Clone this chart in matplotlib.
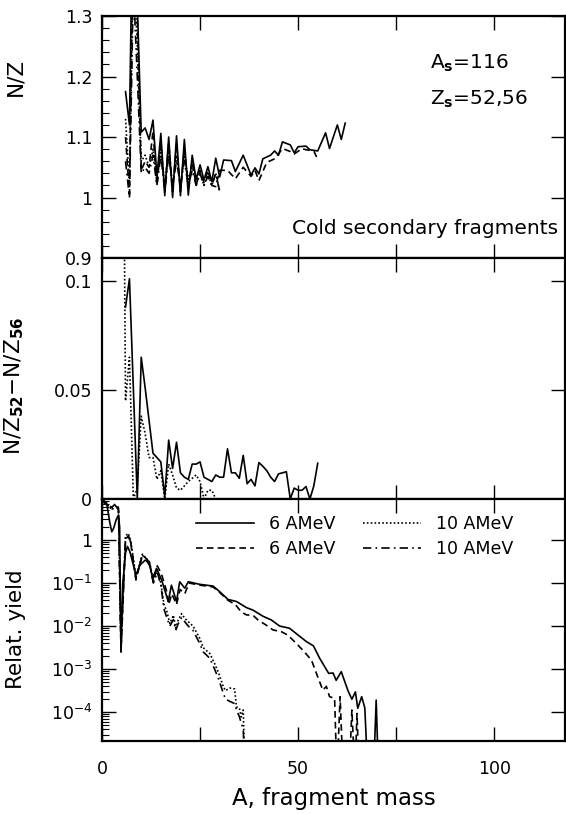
import numpy as np
import matplotlib
matplotlib.use("Agg")
import matplotlib.pyplot as plt
from matplotlib.ticker import MultipleLocator, FixedLocator, NullFormatter, LogLocator

plt.rcParams['font.family'] = ['DejaVu Sans']
plt.rcParams['mathtext.default'] = 'regular'

# ---------------- data: top panel (N/Z of cold fragments) ----------------
nz_solid_A = [6, 7, 8, 9, 10, 11, 12, 13, 14, 15, 16, 17, 18, 19, 20, 21, 22, 23, 24, 25, 26,
              27, 28, 29, 30, 31, 33, 34, 36, 38, 39, 40, 41, 43, 44, 45, 46, 48, 49, 50, 52,
              53, 55, 57, 58, 60, 61, 62]
nz_solid = [1.175, 1.12, 1.55, 1.32, 1.108, 1.115, 1.096, 1.128, 1.035, 1.106, 1.003, 1.100,
            1.000, 1.102, 1.003, 1.096, 1.004, 1.070, 1.030, 1.054, 1.029, 1.051, 1.026, 1.065,
            1.034, 1.062, 1.061, 1.043, 1.070, 1.037, 1.049, 1.039, 1.064, 1.070, 1.077, 1.070,
            1.092, 1.087, 1.074, 1.084, 1.085, 1.079, 1.077, 1.107, 1.081, 1.120, 1.096, 1.123]

nz_dash_A = [6, 7, 8, 9, 10, 11, 12, 13, 14, 15, 16, 17, 18, 19, 20, 21, 22, 23, 24, 25, 26,
             27, 28, 29, 30, 32, 34, 36, 38, 39, 40, 42, 44, 45, 46, 48, 49, 51, 52, 54, 55]
nz_dash = [1.10, 1.005, 1.50, 1.30, 1.045, 1.06, 1.05, 1.11, 1.02, 1.09, 1.01, 1.09, 1.01,
           1.09, 1.01, 1.08, 1.02, 1.06, 1.02, 1.045, 1.025, 1.045, 1.02, 1.018, 1.045,
           1.045, 1.031, 1.050, 1.035, 1.045, 1.028, 1.058, 1.064, 1.072, 1.081, 1.076,
           1.072, 1.081, 1.079, 1.077, 1.063]

nz_dot_A = [6, 7, 8, 9, 10, 11, 12, 13, 14, 15, 16, 17, 18, 19, 20, 21, 22, 23, 24, 25, 26,
            27, 28, 29, 30]
nz_dot = [1.13, 1.02, 1.40, 1.25, 1.06, 1.07, 1.05, 1.08, 1.03, 1.08, 1.02, 1.08, 1.02, 1.07,
          1.02, 1.07, 1.03, 1.05, 1.03, 1.04, 1.02, 1.04, 1.02, 1.04, 1.01]
nz_dashdot = [1.06, 1.00, 1.35, 1.20, 1.04, 1.05, 1.04, 1.07, 1.02, 1.07, 1.01, 1.07, 1.02,
              1.06, 1.02, 1.06, 1.02, 1.045, 1.02, 1.04, 1.02, 1.035, 1.02, 1.04, 1.01]

# ---------------- data: middle panel (N/Z52 - N/Z56) ----------------
dnz_solid_A = [6, 7, 9, 10, 11, 12, 13, 14, 15, 16, 17, 18, 19, 20, 21, 22, 23, 24, 25, 26,
               27, 28, 29, 30, 31, 32, 33, 34, 35, 36, 37, 38, 39, 40, 41, 42, 43, 44, 45,
               46, 47, 48, 49, 50, 51, 52, 53, 54, 55]
dnz_solid = [0.088, 0.101, 0.0, 0.065, 0.051, 0.036, 0.021, 0.019, 0.017, 0.001, 0.027,
             0.014, 0.026, 0.012, 0.010, 0.009, 0.016, 0.016, 0.017, 0.010, 0.009, 0.008,
             0.011, 0.010, 0.010, 0.023, 0.012, 0.012, 0.0095, 0.020, 0.007, 0.009, 0.006,
             0.0167, 0.015, 0.013, 0.010, 0.008, 0.0115, 0.012, 0.0125, 0.0, 0.005, 0.004,
             0.004, 0.0057, 0.0, 0.006, 0.0164]
dnz_dot_A = [5, 6, 7, 8, 9, 10, 11, 12, 13, 14, 15, 16, 17, 18, 19, 20, 21, 22, 23, 24, 25,
             26, 27, 28, 29]
dnz_dot = [0.30, 0.045, 0.065, 0.0, 0.005, 0.038, 0.030, 0.019, 0.019, 0.009, 0.013, 0.0,
           0.016, 0.011, 0.005, 0.004, 0.006, 0.008, 0.0095, 0.011, 0.008, 0.0, 0.004, 0.004,
           0.0]

# ---------------- data: bottom panel (relative yield, log10 values) ----------------
y6a_A = [0, 1.2, 2.0, 2.5, 3.0, 3.6, 4.2, 4.5, 4.83, 5.3, 6.0, 6.5, 7.1, 8.65, 9.7, 11.0,
         12.05, 12.9, 13.9, 15.2, 16.9, 17.7, 19.0, 19.8, 21.1, 22.0, 24.9, 28.3, 30.0, 32.1,
         34.3, 36.8, 38.5, 41.0, 43.2, 45.3, 47.8, 50.0, 52.1, 53.9, 55.5, 57.8, 58.9, 59.7,
         61.0, 62.7, 63.7, 64.6, 65.2, 66.2, 67.0, 67.8, 69.2, 69.9, 70.5]
y6a_log10 = [0.95, 0.85, 0.40, 0.19, 0.28, 0.47, 0.58, 0.30, -2.60, -1.00, -0.30, -0.15,
             -0.27, -0.81, -0.58, -0.47, -0.50, -0.89, -0.66, -0.93, -1.43, -1.05, -1.43,
             -0.97, -1.12, -0.97, -1.03, -1.07, -1.20, -1.38, -1.43, -1.57, -1.63, -1.77,
             -1.86, -2.00, -2.05, -2.21, -2.36, -2.46, -2.75, -3.10, -3.09, -3.26, -3.06,
             -3.50, -3.70, -3.53, -3.91, -3.64, -3.90, -5.50, -5.50, -3.72, -5.50]

y6b_A = [0, 1.5, 2.5, 3.5, 4.2, 4.85, 6.0, 6.7, 7.3, 8.65, 10.3, 11.5, 12.2, 13.1, 14.1,
         15.2, 16.5, 17.0, 17.8, 19.0, 19.9, 21.1, 22.2, 25.0, 28.3, 30.0, 32.1, 34.0, 35.5,
         36.8, 38.5, 39.8, 41.9, 43.6, 45.7, 47.4, 49.5, 51.2, 53.4, 55.0, 56.3, 57.2, 58.0,
         59.3, 59.9, 60.7, 61.5, 63.0, 63.7, 64.5, 65.0, 65.6]
y6b_log10 = [0.95, 0.82, 0.76, 0.85, 0.75, -2.60, 0.00, 0.10, -0.05, -0.93, -0.35, -0.45,
             -0.60, -0.97, -0.60, -0.80, -1.20, -1.50, -1.25, -1.50, -1.15, -1.25, -1.00,
             -1.05, -1.09, -1.22, -1.40, -1.50, -1.67, -1.74, -1.75, -1.86, -1.98, -2.09,
             -2.13, -2.21, -2.40, -2.56, -2.79, -3.18, -3.49, -3.40, -3.64, -3.68, -5.50,
             -3.64, -5.50, -5.50, -3.95, -5.50, -4.03, -5.50]

y10_A = [0, 1.5, 2.5, 3.5, 4.2, 4.85, 6.0, 6.7, 7.3, 8.65, 10.3, 11.5, 12.2, 13.1, 14.1,
         15.0, 15.8, 16.5, 17.3, 18.2, 18.8, 19.4, 20.3, 21.1, 22.0, 23.2, 24.9, 25.8, 27.5,
         28.7, 29.6, 30.9, 31.5, 32.6, 33.8, 34.3, 35.0, 35.5, 36.0, 36.5]
y10a_log10 = [0.95, 0.82, 0.70, 0.80, 0.70, -2.50, 0.10, 0.155, 0.00, -0.85, -0.33, -0.45,
              -0.55, -0.95, -0.70, -1.00, -1.50, -1.65, -1.94, -1.75, -2.05, -1.87, -1.71,
              -1.82, -1.90, -2.00, -2.28, -2.50, -2.64, -2.87, -3.06, -3.40, -3.50, -3.44,
              -3.46, -3.88, -3.90, -4.11, -3.95, -5.50]
y10b_log10 = [0.90, 0.80, 0.72, 0.80, 0.70, -2.50, 0.05, 0.10, -0.05, -0.90, -0.35, -0.50,
              -0.60, -1.00, -0.75, -1.05, -1.60, -1.80, -2.00, -1.85, -2.10, -1.95, -1.80,
              -1.90, -2.00, -2.10, -2.40, -2.60, -2.75, -3.00, -3.20, -3.55, -3.70, -3.75,
              -3.80, -3.95, -4.10, -4.25, -4.40, -5.50]

x_ticks = [0, 25, 50, 75, 100]
x_ticklabels = ["0", "", "50", "", "100"]
nz_ticks = [0.9, 1.0, 1.1, 1.2, 1.3]
nz_ticklabels = ["0.9", "1", "1.1", "1.2", "1.3"]
dnz_ticks = [0, 0.05, 0.1]
dnz_ticklabels = ["0", "0.05", "0.1"]
yld_ticks = [1e-4, 1e-3, 1e-2, 1e-1, 1]
yld_ticklabels = [r"$10^{-4}$", r"$10^{-3}$", r"$10^{-2}$", r"$10^{-1}$", "1"]

# ---------------- figure ----------------
fig = plt.figure(figsize=(5.66, 8.14), dpi=100)
L, R = 0.1802, 0.998
ax1 = fig.add_axes([L, 0.683, R - L, 0.9803 - 0.683])
ax2 = fig.add_axes([L, 0.387, R - L, 0.683 - 0.387])
ax3 = fig.add_axes([L, 0.0897, R - L, 0.387 - 0.0897])

lw = 1.2
ls_dash = (0, (4, 2.5))
ls_dot = (0, (1, 1.3))
ls_dashdot = (0, (5, 2.5, 1, 2.5))

ax1.plot(nz_solid_A, nz_solid, color='black', lw=lw, ls='-')
ax1.plot(nz_dash_A, nz_dash, color='black', lw=lw, ls=ls_dash)
ax1.plot(nz_dot_A, nz_dot, color='black', lw=lw, ls=ls_dot)
ax1.plot(nz_dot_A, nz_dashdot, color='black', lw=lw, ls=ls_dashdot)

ax2.plot(dnz_solid_A, dnz_solid, color='black', lw=lw, ls='-')
ax2.plot(dnz_dot_A, dnz_dot, color='black', lw=lw, ls=ls_dot)

ax3.plot(y6a_A, 10 ** np.array(y6a_log10), color='black', lw=lw, ls='-', label='6 AMeV')
ax3.plot(y6b_A, 10 ** np.array(y6b_log10), color='black', lw=lw, ls=ls_dash, label='6 AMeV')
ax3.plot(y10_A, 10 ** np.array(y10a_log10), color='black', lw=lw, ls=ls_dot, label='10 AMeV')
ax3.plot(y10_A, 10 ** np.array(y10b_log10), color='black', lw=lw, ls=ls_dashdot, label='10 AMeV')

for ax in (ax1, ax2, ax3):
    ax.set_xlim(0, 118)
    ax.set_xticks(x_ticks)
    for s in ax.spines.values():
        s.set_linewidth(1.6)
    ax.tick_params(which='major', direction='in', top=True, right=True, length=10,
                   width=1.0, labelsize=12.5)
    ax.tick_params(which='minor', direction='in', top=False, right=False, length=5,
                   width=0.8)
    ax.tick_params(axis='y', pad=7)
    ax.set_xticklabels([])

ax3.set_xticklabels(x_ticklabels)
ax3.tick_params(axis='x', pad=14)
ax3.set_xlabel("A, fragment mass", fontsize=16.5, labelpad=6)

ax1.set_ylim(0.9, 1.3)
ax1.set_yticks(nz_ticks)
ax1.set_yticklabels(nz_ticklabels)
ax1.yaxis.set_minor_locator(MultipleLocator(0.02))
ax1.set_ylabel("N/Z", fontsize=15.5)
ax1.yaxis.set_label_coords(-0.165, 0.75)
ax1.text(0.708, 0.806, r"A$_{\mathbf{s}}$=116", transform=ax1.transAxes, fontsize=14.5,
         va='center')
ax1.text(0.708, 0.655, r"Z$_{\mathbf{s}}$=52,56", transform=ax1.transAxes, fontsize=14.5,
         va='center')
ax1.text(0.985, 0.124, "Cold secondary fragments", transform=ax1.transAxes, fontsize=14.5,
         ha='right', va='center')

ax2.set_ylim(0, 0.1105)
ax2.set_yticks(dnz_ticks)
ax2.set_yticklabels(dnz_ticklabels)
ax2.set_ylabel(r"N/Z$_{\mathbf{52}}$−N/Z$_{\mathbf{56}}$", fontsize=15.5)
ax2.yaxis.set_label_coords(-0.165, 0.47)

ax3.set_yscale('log')
ax3.set_ylim(10 ** -4.67, 10 ** 0.953)
ax3.yaxis.set_major_locator(FixedLocator(yld_ticks))
ax3.set_yticklabels(yld_ticklabels)
ax3.yaxis.set_minor_locator(LogLocator(base=10, subs=np.arange(2, 10)))
ax3.yaxis.set_minor_formatter(NullFormatter())
ax3.set_ylabel("Relat. yield", fontsize=15.5)
ax3.yaxis.set_label_coords(-0.165, 0.46)

ax3.legend(ncol=2, loc='upper left', bbox_to_anchor=(0.17, 1.0), frameon=False,
           fontsize=12.5, handlelength=3.3, handletextpad=0.9, columnspacing=1.6,
           labelspacing=0.45)

fig.savefig("out.png", dpi=100)
